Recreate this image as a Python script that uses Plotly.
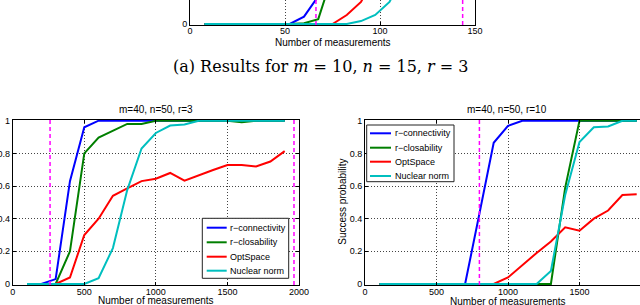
import plotly.graph_objects as go

# ---------------- data ----------------
x_top = [7.5, 15, 22.5, 30, 37.5, 45, 52.5, 60, 67.5, 75, 82.5, 90, 97.5, 105, 112.5, 120, 127.5, 135, 142.5]
top_conn = [0, 0, 0, 0, 0, 0, 0, 0.045, 0.17, 0.5, 0.8, 0.93, 0.98, 1, 1, 1, 1, 1, 1]
top_clos = [0, 0, 0, 0, 0, 0, 0, 0.005, 0.03, 0.3, 0.7, 0.9, 0.97, 1, 1, 1, 1, 1, 1]
top_opt = [0, 0, 0, 0, 0, 0, 0, 0, 0, 0, 0.055, 0.135, 0.3, 0.45, 0.6, 0.7, 0.75, 0.8, 0.85]
top_nuc = [0, 0, 0, 0, 0, 0, 0, 0, 0, 0, 0, 0.018, 0.055, 0.135, 0.4, 0.7, 0.9, 0.97, 1]
top_bounds = [66.3, 143.5]

x_big = [100, 200, 300, 400, 500, 600, 700, 800, 900, 1000, 1100, 1200, 1300, 1400, 1500, 1600, 1700, 1800, 1900]
r3_conn = [0, 0, 0.03, 0.63, 0.96, 1, 1, 1, 1, 1, 1, 1, 1, 1, 1, 1, 1, 1, 1]
r3_clos = [0, 0, 0, 0.2, 0.8, 0.896, 0.94, 0.98, 0.98, 1, 1, 1, 1, 1, 1, 0.99, 1, 1, 1]
r3_opt = [0, 0, 0, 0.04, 0.30, 0.40, 0.54, 0.585, 0.63, 0.645, 0.68, 0.633, 0.667, 0.698, 0.729, 0.729, 0.72, 0.75, 0.814]
r3_nuc = [0, 0, 0, 0, 0, 0.035, 0.22, 0.575, 0.83, 0.925, 0.97, 0.977, 1, 1, 1, 1, 1, 1, 1]
r3_bounds = [261, 1965]

r10_conn = [0, 0, 0, 0, 0, 0, 0, 0.43, 0.865, 0.968, 1, 1, 1, 1, 1, 1, 1, 1, 1]
r10_clos = [0, 0, 0, 0, 0, 0, 0, 0, 0, 0, 0, 0, 0, 0.59, 1, 1, 1, 1, 1]
r10_opt = [0, 0, 0, 0, 0, 0, 0, 0, 0, 0.04, 0.117, 0.19, 0.26, 0.347, 0.326, 0.40, 0.45, 0.545, 0.55]
r10_nuc = [0, 0, 0, 0, 0, 0, 0, 0, 0, 0, 0, 0, 0.08, 0.545, 0.87, 0.96, 0.965, 1, 1]
r10_bounds = [800]

series_names = ["r\u2212connectivity", "r\u2212closability", "OptSpace", "Nuclear norm"]
series_colors = ["#0000ff", "#007f00", "#ff0000", "#00bfbf"]
y_ticks = [0, 0.2, 0.4, 0.6, 0.8, 1]
x_ticks_top = [0, 50, 100, 150]
x_ticks_big = [0, 500, 1000, 1500, 2000]

# ---------------- layout helpers ----------------
W, H = 640, 305
FONT = "Liberation Sans, Arial, sans-serif"


def fx(p):
    return p / W


def fy(p):
    return 1 - p / H


fig = go.Figure()

panels = [
    dict(xs=x_top, ys=[top_conn, top_clos, top_opt, top_nuc], ax="", bounds=top_bounds),
    dict(xs=x_big, ys=[r3_conn, r3_clos, r3_opt, r3_nuc], ax="2", bounds=r3_bounds),
    dict(xs=x_big, ys=[r10_conn, r10_clos, r10_opt, r10_nuc], ax="3", bounds=r10_bounds),
]

for p in panels:
    for ys, name, col in zip(p["ys"], series_names, series_colors):
        fig.add_trace(go.Scatter(
            x=p["xs"], y=ys, mode="lines", name=name, showlegend=False,
            line=dict(color=col, width=2),
            xaxis="x" + p["ax"], yaxis="y" + p["ax"], hoverinfo="skip"))
    for b in p["bounds"]:
        fig.add_shape(type="line", xref="x" + p["ax"], yref="y" + p["ax"] + " domain",
                      x0=b, x1=b, y0=0, y1=1,
                      line=dict(color="#ff00ff", width=1.5, dash="4px,3px"))

scale = 163.3  # px per unit probability
pad = 1.0

common_x = dict(showline=True, linecolor="black", linewidth=1, ticks="inside", ticklen=3,
                tickcolor="black", showgrid=True, gridcolor="#444", griddash="1px,2px",
                gridwidth=1, zeroline=False, automargin=False,
                tickfont=dict(family=FONT, size=9, color="black"))
common_y = dict(common_x)

fig.update_layout(
    width=W, height=H, margin=dict(l=0, r=0, t=0, b=0),
    paper_bgcolor="white", plot_bgcolor="white",
    # top panel (m=10, n=15, r=3) -- only bottom strip visible
    xaxis=dict(common_x, domain=[fx(190), fx(475)], range=[0, 150], tickvals=x_ticks_top,
               anchor="y", mirror=False, ticklabelstandoff=-3),
    yaxis=dict(common_y, domain=[fy(24 + pad), 1], range=[-pad / scale, 24 / scale],
               tickvals=y_ticks, anchor="x", mirror="ticks"),
    # bottom left (r=3)
    xaxis2=dict(common_x, domain=[fx(12.7), fx(299)], range=[0, 2000], tickvals=x_ticks_big,
                anchor="y2", mirror="ticks", ticklabelstandoff=-2),
    yaxis2=dict(common_y, domain=[fy(284 + pad), fy(120.7 - pad)],
                range=[-pad / scale, 1 + pad / scale], tickvals=y_ticks, anchor="x2", mirror="ticks"),
    # bottom right (r=10), cut at the right edge
    xaxis3=dict(common_x, domain=[fx(365), 1], range=[0, 2000 * (640 - 365) / (651 - 365)],
                tickvals=x_ticks_big, anchor="y3", mirror="ticks", ticklabelstandoff=-2),
    yaxis3=dict(common_y, domain=[fy(284 + pad), fy(120.7 - pad)],
                range=[-pad / scale, 1 + pad / scale], tickvals=y_ticks, anchor="x3", mirror=False),
)

ann = []


def text(x, y, s, size=10, family=FONT, angle=0, xanchor="center"):
    ann.append(dict(x=fx(x), y=fy(y), xref="paper", yref="paper", text=s, showarrow=False,
                    xanchor=xanchor, yanchor="middle", textangle=angle,
                    font=dict(family=family, size=size, color="black")))


text(333, 42.7, "Number of measurements")
text(320.7, 66.7, "(a) Results for <i>m</i> = 10, <i>n</i> = 15, <i>r</i> = 3", size=16,
     family="DejaVu Serif, serif")
text(156, 109.3, "m=40, n=50, r=3")
text(507, 109.3, "m=40, n=50, r=10")
text(156, 300.5, "Number of measurements")
text(508.3, 301.5, "Number of measurements")
text(341.7, 202, "Success probability", angle=-90)

# hand-drawn legends (MATLAB style boxes)
legends = [
    dict(box=(202.3, 218.3, 288.7, 278.3), ys=[227.7, 242.3, 256.7, 270.7], lx=(206.7, 226.7), tx=228),
    dict(box=(366.7, 125, 454, 181.7), ys=[133.3, 147.7, 161.7, 176], lx=(370, 391), tx=392.5),
]
for lg in legends:
    x0, y0, x1, y1 = lg["box"]
    fig.add_shape(type="rect", xref="paper", yref="paper", x0=fx(x0), x1=fx(x1), y0=fy(y1), y1=fy(y0),
                  fillcolor="white", line=dict(color="#222", width=1), layer="above")
    for yy, name, col in zip(lg["ys"], series_names, series_colors):
        fig.add_shape(type="line", xref="paper", yref="paper", x0=fx(lg["lx"][0]), x1=fx(lg["lx"][1]),
                      y0=fy(yy), y1=fy(yy), line=dict(color=col, width=2), layer="above")
        text(lg["tx"], yy, name, size=9, xanchor="left")

fig.update_layout(annotations=ann)
fig.write_html("out.html", config={"displayModeBar": False},
               post_script="document.body.style.margin='0';document.body.style.overflow='hidden';")
